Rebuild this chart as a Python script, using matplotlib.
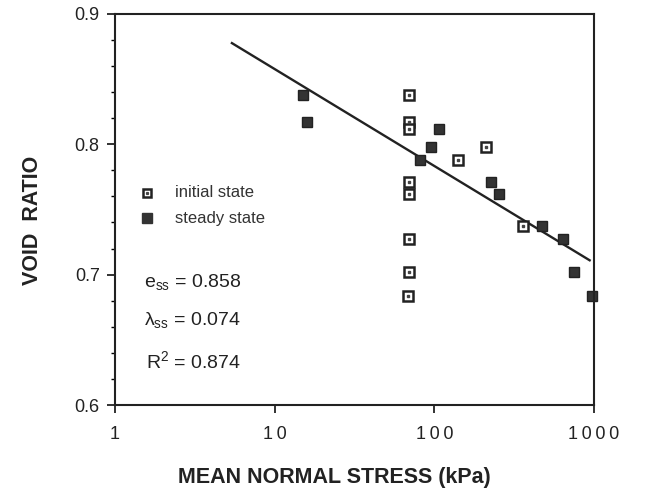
import matplotlib
matplotlib.use("Agg")
import matplotlib.pyplot as plt
from matplotlib.ticker import MultipleLocator

plt.rcParams['font.family'] = ['Liberation Sans', 'DejaVu Sans']

# initial state (open squares)
init_p = [69.6, 69.6, 69.6, 69.6, 69.6, 69.6, 69.6, 68.0, 140, 212, 357]
init_e = [0.838, 0.817, 0.812, 0.771, 0.762, 0.727, 0.702, 0.684, 0.788, 0.798, 0.737]

# steady state (filled squares)
ss_p = [15.0, 15.9, 107, 94.8, 81.2, 228, 253, 472, 642, 745, 975]
ss_e = [0.838, 0.817, 0.812, 0.798, 0.788, 0.771, 0.762, 0.737, 0.727, 0.702, 0.684]

# steady state line endpoints
line_p = [5.4, 940]
line_e = [0.8775, 0.711]

xticks = [1, 10, 100, 1000]
xtick_labels = ['1', '1\u20090', '1\u20090\u20090', '1\u20090\u20090\u20090']
yticks = [0.6, 0.7, 0.8, 0.9]
ytick_labels = ['0.6', '0.7', '0.8', '0.9']

fig = plt.figure(figsize=(6.57, 4.91), dpi=100)
ax = fig.add_axes([0.175, 0.175, 0.729, 0.797])

ax.plot(line_p, line_e, color='#222222', lw=1.7)
ax.plot(ss_p, ss_e, 's', ms=7, color='#333333', mec='#222222', mew=1, clip_on=False)
ax.plot(init_p, init_e, 's', ms=6.5, mfc='white', mec='#222222', mew=1.8, clip_on=False)
ax.plot(init_p, init_e, 's', ms=1.5, color='#444444', lw=0, clip_on=False)

ax.set_xscale('log')
ax.set_xlim(1, 1000)
ax.set_ylim(0.6, 0.9)
ax.set_xticks(xticks)
ax.set_xticklabels(xtick_labels)
ax.xaxis.set_minor_locator(plt.NullLocator())
ax.set_yticks(yticks)
ax.set_yticklabels(ytick_labels)
ax.yaxis.set_minor_locator(MultipleLocator(0.02))
ax.tick_params(which='major', direction='out', length=6, width=1.3, labelsize=13, colors='#222222')
ax.tick_params(which='minor', direction='out', length=3, width=1.0)
ax.tick_params(axis='x', pad=9)
ax.tick_params(axis='y', pad=5)
for s in ax.spines.values():
    s.set_linewidth(1.5)
    s.set_color('#222222')

fig.text(334 / 657, 1 - 477 / 491, 'MEAN NORMAL STRESS (kPa)', fontsize=15.5,
         fontweight='bold', ha='center', va='center', color='#222222')
fig.text(32 / 657, 1 - 220 / 491, 'VOID  RATIO', fontsize=15.5, fontweight='bold',
         rotation=90, ha='center', va='center', color='#222222')

# legend drawn by hand
ax.plot([1.585], [0.7627], 's', ms=6, mfc='white', mec='#222222', mew=1.8)
ax.plot([1.585], [0.7627], 's', ms=1.3, color='#444444')
ax.plot([1.585], [0.7434], 's', ms=6.5, color='#333333')
ax.text(2.37, 0.7627, 'initial state', fontsize=12, va='center', color='#333333')
ax.text(2.37, 0.7434, 'steady state', fontsize=12, va='center', color='#333333')

ax.text(1.52, 0.6936, r'e$_{\mathregular{ss}}$ = 0.858', fontsize=14, va='center', color='#222222')
ax.text(1.52, 0.6644, r'λ$_{\mathregular{ss}}$ = 0.074', fontsize=14, va='center', color='#222222')
ax.text(1.57, 0.633, r'R$^{\mathregular{2}}$ = 0.874', fontsize=14, va='center', color='#222222')

fig.savefig('out.png', dpi=100)
